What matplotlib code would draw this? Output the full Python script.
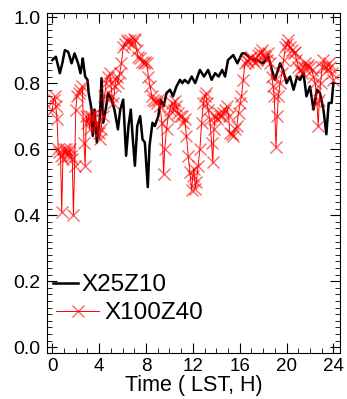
import matplotlib
matplotlib.use("Agg")
import matplotlib.pyplot as plt
from matplotlib.ticker import MultipleLocator

plt.rcParams['font.family'] = ['Liberation Sans', 'DejaVu Sans']

# hours (LST) and values
black_t = [0.0, 0.3, 0.64, 0.85, 1.07, 1.35, 1.64, 1.9, 2.2, 2.4,
           2.5, 2.6, 2.8, 3.0, 3.1, 3.35, 3.45, 3.6, 3.8, 4.05,
           4.2, 4.35, 4.6, 4.75, 5.05, 5.3, 5.6, 5.8, 6.05, 6.3,
           6.5, 6.7, 6.85, 7.05, 7.25, 7.5, 7.7, 7.9, 8.15, 8.3,
           8.55, 8.75, 9.05, 9.25, 9.5, 9.75, 10.05, 10.3, 10.6, 10.9,
           11.1, 11.3, 11.6, 11.9, 12.2, 12.6, 12.95, 13.3, 13.6, 13.9,
           14.2, 14.5, 14.75, 15.0, 15.45, 15.8, 16.2, 16.45, 16.9, 17.45,
           18.0, 18.45, 18.75, 19.0, 19.45, 19.7, 20.0, 20.3, 20.6, 20.9,
           21.15, 21.45, 21.7, 22.0, 22.3, 22.6, 22.85, 23.15, 23.4, 23.6,
           23.85, 24.0]
black_v = [0.87, 0.88, 0.83, 0.86, 0.90, 0.895, 0.86, 0.89, 0.86, 0.83,
           0.85, 0.875, 0.82, 0.81, 0.77, 0.72, 0.64, 0.72, 0.62, 0.69,
           0.815, 0.68, 0.73, 0.77, 0.75, 0.72, 0.66, 0.72, 0.75, 0.58,
           0.67, 0.72, 0.64, 0.55, 0.67, 0.70, 0.63, 0.62, 0.485, 0.61,
           0.68, 0.67, 0.70, 0.75, 0.73, 0.77, 0.78, 0.76, 0.79, 0.81,
           0.80, 0.81, 0.80, 0.82, 0.80, 0.84, 0.82, 0.84, 0.81, 0.83,
           0.82, 0.84, 0.82, 0.87, 0.885, 0.86, 0.89, 0.89, 0.875, 0.87,
           0.86, 0.88, 0.84, 0.81, 0.86, 0.84, 0.80, 0.82, 0.78, 0.82,
           0.81, 0.83, 0.76, 0.79, 0.72, 0.78, 0.77, 0.72, 0.645, 0.74,
           0.74, 0.80]

red_t = [0.0, 0.1, 0.2, 0.3, 0.4, 0.5, 0.6, 0.7, 0.8, 0.9,
         1.0, 1.1, 1.2, 1.3, 1.4, 1.5, 1.6, 1.7, 1.8, 1.9,
         2.0, 2.1, 2.25, 2.4, 2.55, 2.7, 2.8, 2.9, 3.0, 3.1,
         3.2, 3.3, 3.45, 3.6, 3.7, 3.8, 3.95, 4.05, 4.15, 4.3,
         4.45, 4.6, 4.75, 4.9, 5.0, 5.1, 5.2, 5.35, 5.5, 5.6,
         5.75, 5.9, 6.05, 6.2, 6.35, 6.5, 6.65, 6.8, 6.95, 7.05,
         7.2, 7.35, 7.5, 7.65, 7.8, 7.95, 8.05, 8.2, 8.35, 8.5,
         8.6, 8.75, 8.9, 9.05, 9.2, 9.35, 9.5, 9.6, 9.75, 9.9,
         10.05, 10.2, 10.35, 10.5, 10.6, 10.75, 10.9, 11.05, 11.2, 11.3,
         11.45, 11.6, 11.75, 11.9, 12.0, 12.1, 12.2, 12.3, 12.45, 12.6,
         12.75, 12.9, 13.0, 13.1, 13.2, 13.3, 13.45, 13.6, 13.7, 13.8,
         13.9, 14.05, 14.2, 14.3, 14.45, 14.6, 14.75, 14.9, 15.05, 15.15,
         15.3, 15.45, 15.6, 15.75, 15.9, 16.05, 16.15, 16.3, 16.45, 16.6,
         16.75, 16.9, 17.0, 17.15, 17.3, 17.45, 17.6, 17.75, 17.9, 18.05,
         18.15, 18.3, 18.45, 18.6, 18.75, 18.85, 18.95, 19.1, 19.2, 19.3,
         19.45, 19.6, 19.75, 19.9, 20.05, 20.15, 20.3, 20.45, 20.6, 20.7,
         20.85, 21.0, 21.15, 21.3, 21.45, 21.6, 21.75, 21.85, 22.0, 22.15,
         22.3, 22.45, 22.6, 22.7, 22.8, 22.9, 23.05, 23.15, 23.3, 23.45,
         23.6, 23.7, 23.85, 24.0]
red_v = [0.72, 0.75, 0.76, 0.73, 0.69, 0.60, 0.59, 0.58, 0.41, 0.57,
         0.60, 0.59, 0.60, 0.58, 0.59, 0.60, 0.58, 0.57, 0.40, 0.55,
         0.72, 0.76, 0.77, 0.78, 0.79, 0.62, 0.55, 0.70, 0.68, 0.70,
         0.66, 0.70, 0.69, 0.71, 0.67, 0.68, 0.65, 0.63, 0.66, 0.70,
         0.76, 0.80, 0.82, 0.83, 0.80, 0.76, 0.74, 0.79, 0.82, 0.80,
         0.83, 0.86, 0.91, 0.92, 0.93, 0.925, 0.93, 0.92, 0.935, 0.93,
         0.90, 0.88, 0.875, 0.865, 0.86, 0.865, 0.86, 0.82, 0.79, 0.76,
         0.75, 0.745, 0.74, 0.75, 0.73, 0.68, 0.525, 0.60, 0.66, 0.70,
         0.72, 0.74, 0.72, 0.745, 0.73, 0.71, 0.70, 0.70, 0.68, 0.69,
         0.64, 0.58, 0.53, 0.475, 0.52, 0.54, 0.48, 0.50, 0.55, 0.60,
         0.68, 0.74, 0.76, 0.77, 0.74, 0.72, 0.69, 0.62, 0.56, 0.66,
         0.70, 0.69, 0.71, 0.70, 0.70, 0.71, 0.72, 0.73, 0.70, 0.65,
         0.645, 0.64, 0.66, 0.67, 0.71, 0.74, 0.76, 0.81, 0.86, 0.87,
         0.865, 0.875, 0.88, 0.87, 0.86, 0.87, 0.885, 0.89, 0.90, 0.885,
         0.88, 0.87, 0.89, 0.86, 0.82, 0.79, 0.76, 0.605, 0.70, 0.76,
         0.80, 0.83, 0.87, 0.91, 0.92, 0.93, 0.91, 0.90, 0.89, 0.895,
         0.87, 0.85, 0.84, 0.83, 0.85, 0.86, 0.85, 0.855, 0.85, 0.84,
         0.82, 0.80, 0.74, 0.67, 0.75, 0.80, 0.85, 0.87, 0.85, 0.84,
         0.86, 0.85, 0.83, 0.81]

fig = plt.figure(figsize=(3.47, 3.99), dpi=100)
ax = fig.add_axes([0.135, 0.115, 0.845, 0.852])

l1, = ax.plot(black_t, black_v, color='black', lw=1.8, label='X25Z10')
l2, = ax.plot(red_t, red_v, color='red', lw=0.7, marker='x', ms=8,
              mew=1.0, mec=(1, 0, 0, 0.6), label='X100Z40')

ax.set_xlim(-0.47, 24.57)
ax.set_ylim(-0.018, 1.012)
ax.xaxis.set_major_locator(MultipleLocator(4))
ax.xaxis.set_minor_locator(MultipleLocator(1))
ax.yaxis.set_major_locator(MultipleLocator(0.2))
ax.yaxis.set_minor_locator(MultipleLocator(0.02))
ax.yaxis.set_major_formatter(plt.FormatStrFormatter('%.1f'))
ax.tick_params(which='both', direction='in', top=True, right=True)
ax.tick_params(which='major', length=7)
ax.tick_params(which='minor', length=3.5)
ax.tick_params(axis='y', pad=4.5, labelsize=14)
ax.tick_params(axis='x', pad=3.5, labelsize=13.5)
ax.set_xlabel('Time ( LST, H)', fontsize=15.5, labelpad=0)

leg1 = ax.legend(handles=[l1], loc='center left', bbox_to_anchor=(0.02, 0.2),
                 frameon=False, fontsize=17.5, handlelength=1.03, handletextpad=0.15,
                 borderpad=0, borderaxespad=0)
ax.add_artist(leg1)
ax.legend(handles=[l2], loc='center left', bbox_to_anchor=(0.03, 0.118),
          frameon=False, fontsize=17.5, handlelength=1.8, handletextpad=0.2,
          borderpad=0, borderaxespad=0)

fig.savefig('out.png', dpi=100)
